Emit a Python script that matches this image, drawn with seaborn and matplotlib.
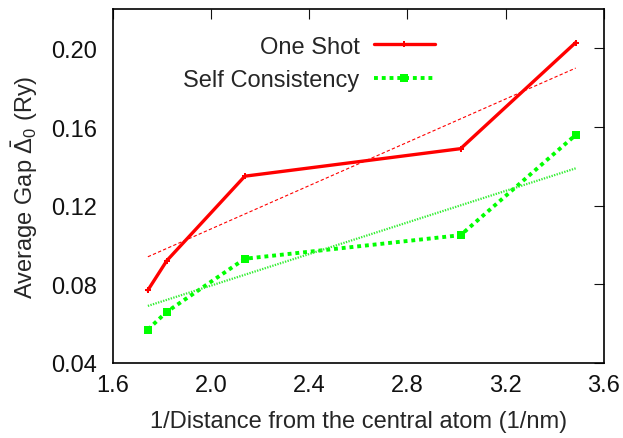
import matplotlib
matplotlib.use("Agg")
import matplotlib.pyplot as plt
import seaborn as sns
import pandas as pd

# data
inv_dist = [1.743, 1.82, 2.138, 3.017, 3.486]
one_shot = [0.077, 0.092, 0.135, 0.149, 0.203]
self_cons = [0.057, 0.066, 0.093, 0.105, 0.156]

# straight fit lines (end points)
fit_x = [1.743, 3.486]
fit_one_shot = [0.094, 0.190]
fit_self_cons = [0.069, 0.139]

x_ticks = [1.6, 2.0, 2.4, 2.8, 3.2, 3.6]
y_ticks = [0.04, 0.08, 0.12, 0.16, 0.20]

sns.set_style("white")
plt.rcParams["font.family"] = ["Liberation Sans", "DejaVu Sans"]
plt.rcParams["mathtext.fontset"] = "custom"
plt.rcParams["mathtext.rm"] = "Liberation Sans"
plt.rcParams["mathtext.it"] = "Liberation Sans"

df = pd.DataFrame({"x": inv_dist, "one": one_shot, "sc": self_cons})
fit = pd.DataFrame({"x": fit_x, "one": fit_one_shot, "sc": fit_self_cons})

fig = plt.figure(figsize=(6.23, 4.39), dpi=100)
ax = fig.add_axes([0.181, 0.171, 0.788, 0.806])

sns.lineplot(data=df, x="x", y="one", ax=ax, color="#ff0000", lw=2.4,
             marker="P", markersize=5, markeredgewidth=0, label="One Shot")
sns.lineplot(data=df, x="x", y="sc", ax=ax, color="#00ff00", lw=2.8,
             linestyle=(0, (1, 1)), marker="s", markersize=6, markeredgewidth=0,
             label="Self Consistency")
sns.lineplot(data=fit, x="x", y="one", ax=ax, color="#ff0000", lw=0.8,
             linestyle=(0, (3, 2)), legend=False)
sns.lineplot(data=fit, x="x", y="sc", ax=ax, color="#33ee33", lw=1.6,
             linestyle=(0, (0.6, 0.6)), legend=False)

ax.set_xlim(1.6, 3.6)
ax.set_ylim(0.04, 0.22)
ax.set_xticks(x_ticks)
ax.set_yticks(y_ticks)
ax.set_xticklabels([f"{v:.1f}" for v in x_ticks])
ax.set_yticklabels([f"{v:.2f}" for v in y_ticks])
ax.tick_params(direction="in", length=7, width=0.8, labelsize=17,
               top=True, right=True, pad=11, colors="#111111")
ax.tick_params(axis="x", pad=8)
for s in ax.spines.values():
    s.set_linewidth(1.2)
    s.set_color("black")

ax.set_xlabel("1/Distance from the central atom (1/nm)", fontsize=17, labelpad=10)
ax.set_ylabel(r"Average Gap $\bar{\Delta}_0$ (Ry)", fontsize=17, labelpad=8)

ax.legend(loc="upper center", bbox_to_anchor=(0.40, 0.985), frameon=False,
          markerfirst=False, fontsize=17, handlelength=2.6, labelspacing=0.5,
          handletextpad=0.6)

fig.savefig("out.png", dpi=100)
